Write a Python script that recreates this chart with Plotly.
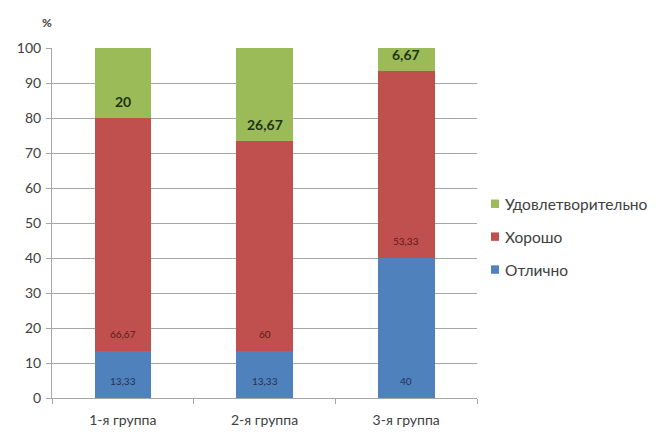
import plotly.graph_objects as go

# Grade distribution per group, %
groups = ["1-я группа", "2-я группа", "3-я группа"]
series_names = ["Отлично", "Хорошо", "Удовлетворительно"]
excellent = [13.33, 13.33, 40]
good = [66.67, 60, 53.33]
satisfactory = [20, 26.67, 6.67]
y_ticks = [0, 10, 20, 30, 40, 50, 60, 70, 80, 90, 100]

colors = ["#4F81BD", "#C0504D", "#9BBB59"]
label_colors = ["#1F3352", "#5A1A18", "#1E3312"]
label_sizes = [10, 10, 14]
label_weights = ["normal", "normal", "bold"]

FONT = "Lato, 'Open Sans', sans-serif"


def fmt(v):
    s = f"{v:.2f}".rstrip("0").rstrip(".")
    return s.replace(".", ",")


all_series = [excellent, good, satisfactory]

fig = go.Figure()
for name, vals, col in zip(series_names, all_series, colors):
    fig.add_trace(go.Bar(x=groups, y=vals, name=name, marker_color=col,
                         marker_line_width=0, showlegend=False))

# value labels sit just above the base of each segment
annotations = []
base = [0.0] * len(groups)
for k, vals in enumerate(all_series):
    for i, v in enumerate(vals):
        annotations.append(dict(
            x=groups[i], y=base[i], xref="x", yref="y", text=fmt(v),
            showarrow=False, yanchor="middle", yshift=17,
            font=dict(family=FONT, size=label_sizes[k], color=label_colors[k],
                      weight=label_weights[k])))
        base[i] += v

# axis unit
annotations.append(dict(x=-0.012, y=1.074, xref="paper", yref="paper", text="%",
                        showarrow=False, xanchor="center", yanchor="middle",
                        font=dict(family=FONT, size=12, color="#404040", weight="bold")))

# legend, top entry is the last series
legend_x = 1.033
for j, k in enumerate(reversed(range(len(series_names)))):
    yy = 0.555 - j * 0.094
    fig.add_shape(type="rect", xref="paper", yref="paper",
                  x0=legend_x, x1=legend_x + 0.0188, y0=yy - 0.012, y1=yy + 0.012,
                  fillcolor=colors[k], line_width=0)
    annotations.append(dict(x=legend_x + 0.029, y=yy, xref="paper", yref="paper",
                            text=series_names[k], showarrow=False,
                            xanchor="left", yanchor="middle",
                            font=dict(family=FONT, size=15.5, color="#404040")))

fig.update_layout(
    barmode="stack",
    bargap=0.6,
    width=663, height=432,
    margin=dict(l=52, r=186, t=48, b=34, autoexpand=False),
    paper_bgcolor="white", plot_bgcolor="white",
    annotations=annotations,
    font=dict(family=FONT, color="#404040"),
)
fig.update_yaxes(range=[0, 100], tickvals=y_ticks, showgrid=True,
                 gridcolor="#A6A6A6", gridwidth=1, showline=True,
                 linecolor="#A6A6A6", ticks="outside", ticklen=5,
                 tickcolor="#A6A6A6", tickfont=dict(size=14, color="#404040"),
                 ticklabelstandoff=2, zeroline=False, automargin=False)
fig.update_xaxes(showline=True, linecolor="#A6A6A6", ticks="outside",
                 tickson="boundaries", ticklen=5, tickcolor="#A6A6A6",
                 tickfont=dict(size=14, color="#404040"), ticklabelstandoff=9,
                 automargin=False)

fig.write_html("out.html")
